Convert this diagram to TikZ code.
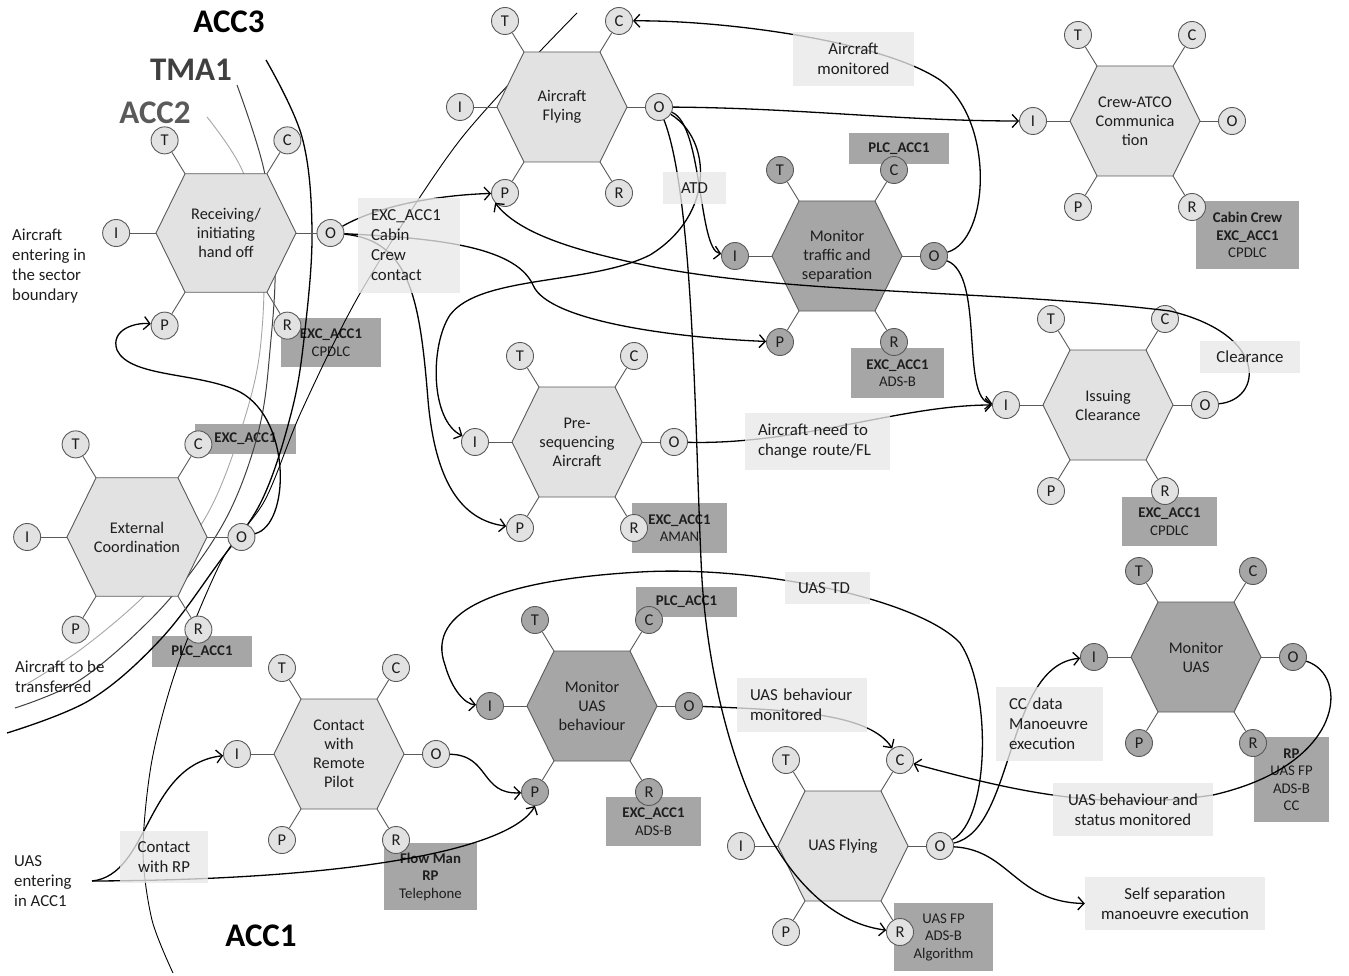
\documentclass[tikz,border=0pt]{standalone}
\usepackage{fontspec}
\setmainfont{Carlito}
\usetikzlibrary{arrows.meta}
\definecolor{hexL}{RGB}{226,226,226}
\definecolor{hexD}{RGB}{166,166,166}
\definecolor{edgeC}{RGB}{90,90,90}
\definecolor{boxD}{RGB}{166,166,166}
\definecolor{boxL}{RGB}{232,232,232}
\definecolor{txt}{RGB}{30,30,30}
\definecolor{tmaC}{RGB}{64,64,64}
\definecolor{accTwoC}{RGB}{90,90,90}

\newcommand{\framfn}[6]{%
 \begin{scope}[shift={(#2,#3)}]
  \pgfmathsetmacro{\fnsc}{#4}
  \node[port,#5] (#1-T) at ({-57*\fnsc},{-86*\fnsc}) {T};
  \node[port,#5] (#1-C) at ({57*\fnsc},{-86*\fnsc}) {C};
  \node[port,#5] (#1-I) at ({-102*\fnsc},0) {I};
  \node[port,#5] (#1-O) at ({97*\fnsc},0) {O};
  \node[port,#5] (#1-P) at ({-57*\fnsc},{86*\fnsc}) {P};
  \node[port,#5] (#1-R) at ({57*\fnsc},{86*\fnsc}) {R};
  \coordinate (#1-vL) at ({-65*\fnsc},0);
  \coordinate (#1-vR) at ({65*\fnsc},0);
  \coordinate (#1-vTL) at ({-38*\fnsc},{-55*\fnsc});
  \coordinate (#1-vTR) at ({38*\fnsc},{-55*\fnsc});
  \coordinate (#1-vBL) at ({-38*\fnsc},{55*\fnsc});
  \coordinate (#1-vBR) at ({38*\fnsc},{55*\fnsc});
  \draw[portline] (#1-T) -- (#1-vTL);
  \draw[portline] (#1-C) -- (#1-vTR);
  \draw[portline] (#1-I) -- (#1-vL);
  \draw[portline] (#1-O) -- (#1-vR);
  \draw[portline] (#1-P) -- (#1-vBL);
  \draw[portline] (#1-R) -- (#1-vBR);
  \filldraw[hexshape,#5] (#1-vL) -- (#1-vTL) -- (#1-vTR) -- (#1-vR) -- (#1-vBR) -- (#1-vBL) -- cycle;
  \node[hextext] (#1) at (0,0) {#6};
 \end{scope}}

\begin{document}
\begin{tikzpicture}[x=1pt,y=-1pt,
  lightfn/.style={fill=hexL},
  darkfn/.style={fill=hexD},
  port/.style={circle, draw=edgeC, line width=0.9pt, minimum size=27pt, inner sep=0pt,
    text=txt, font=\fontsize{16.5}{16.5}\selectfont},
  portline/.style={draw=edgeC, line width=0.9pt},
  hexshape/.style={draw=edgeC, line width=0.9pt},
  hextext/.style={align=center, text=txt, inner sep=0pt, font=\fontsize{16.3}{19}\selectfont},
  dbox/.style={fill=boxD, inner sep=0pt, align=center, text=txt, font=\fontsize{14.8}{17.5}\selectfont},
  lbox/.style={fill=boxL, fill opacity=0.78, text opacity=1, inner sep=0pt, align=center, text=txt,
    font=\fontsize{16.8}{20}\selectfont},
  lboxl/.style={lbox, align=left, inner xsep=13pt},
  free/.style={align=left, inner sep=0pt, text=txt, font=\fontsize{16.8}{20}\selectfont},
  acc/.style={inner sep=0pt, font=\bfseries\fontsize{33}{33}\selectfont},
  conn/.style={draw=black, line width=1.3pt, -{Straight Barb[length=6pt,width=13pt]}},
  bndA/.style={draw=gray!70, line width=0.9pt},
  bndB/.style={draw=tmaC, line width=1pt},
  bndC/.style={draw=black, line width=1.3pt},
  bndD/.style={draw=black, line width=0.9pt}
]
\fill[white] (0,0) rectangle (1349,976);
\useasboundingbox (0,0) rectangle (1349,976);

% ---------- dark resource boxes (behind) ----------
\node[dbox, minimum width=100pt, minimum height=49pt] (bRHR) at (331,342.5) {\textbf{EXC\_ACC1}\\CPDLC};
\node[dbox, minimum width=101pt, minimum height=30pt] (bECC) at (245.5,439) {\textbf{EXC\_ACC1}};
\node[dbox, minimum width=100pt, minimum height=31pt] (bECR) at (202,651.5) {\textbf{PLC\_ACC1}};
\node[dbox, minimum width=100pt, minimum height=31pt] (bMTC) at (899,148.5) {\textbf{PLC\_ACC1}};
\node[dbox, minimum width=93pt, minimum height=50pt] (bMTR) at (897.5,373) {\textbf{EXC\_ACC1}\\ADS-B};
\node[dbox, minimum width=103pt, minimum height=68pt] (bCAR) at (1247.5,235) {\textbf{Cabin Crew}\\\textbf{EXC\_ACC1}\\CPDLC};
\node[dbox, minimum width=95pt, minimum height=49pt] (bICR) at (1169.5,521.5) {\textbf{EXC\_ACC1}\\CPDLC};
\node[dbox, minimum width=95pt, minimum height=50pt] (bPSR) at (679.5,528) {\textbf{EXC\_ACC1}\\AMAN};
\node[dbox, minimum width=101pt, minimum height=30pt] (bMBC) at (686.5,602) {\textbf{PLC\_ACC1}};
\node[dbox, minimum width=95pt, minimum height=49pt] (bMBR) at (653.5,821.5) {\textbf{EXC\_ACC1}\\ADS-B};
\node[dbox, minimum width=93pt, minimum height=67pt] (bCRR) at (430.5,876.5) {\textbf{Flow Man}\\\textbf{RP}\\Telephone};
\node[dbox, minimum width=99pt, minimum height=68pt] (bUFR) at (943.5,937) {UAS FP\\ADS-B\\Algorithm};
\node[dbox, minimum width=75pt, minimum height=85pt] (bMUR) at (1291.5,779.5) {\textbf{RP}\\UAS FP\\ADS-B\\CC};

% ---------- sector boundaries ----------
\draw[bndA] plot[smooth, tension=0.6] coordinates {(207,117) (243,172) (262,250) (262,330) (250,400) (217,495) (180,555) (140,600) (80,650) (25,685)};
\draw[bndB] plot[smooth, tension=0.6] coordinates {(237,85) (264,170) (275,260) (270,350) (260,425) (235,500) (200,560) (150,620) (80,680) (15,708)};
\draw[bndC] plot[smooth, tension=0.6] coordinates {(266,60) (302,137) (312,230) (305,330) (292,410) (262,500) (217,565) (160,640) (90,700) (7,733)};
\draw[bndD] plot[smooth, tension=0.5] coordinates {(577,13) (460,140) (362,290) (302,410) (265,500) (222,560) (177,667) (152,760) (143,850) (152,920) (173,973)};

% ---------- labels ----------
\node[acc, text=black] (lACC3) at (229,22) {ACC3};
\node[acc, text=tmaC] (lTMA1) at (191,70) {TMA1};
\node[acc, text=accTwoC] (lACC2) at (155,113) {ACC2};
\node[acc, text=black] (lACC1) at (261,936) {ACC1};
\node[free, anchor=west] (lEnter) at (12,266) {Aircraft\\entering in\\the sector\\boundary};
\node[free, anchor=west] (lTrans) at (15,677) {Aircraft to be\\transferred};
\node[free, anchor=west] (lUAS) at (14,881) {UAS\\entering\\in ACC1};
\coordinate (uasent) at (92,881);

% ---------- functions ----------
\framfn{RH}{226}{233}{1.077}{lightfn}{Receiving/\\initiating\\hand off}
\framfn{EC}{137}{537}{1.077}{lightfn}{External\\Coordination}
\framfn{AF}{562}{107}{1}{lightfn}{Aircraft\\Flying}
\framfn{MT}{837}{256}{1}{darkfn}{Monitor\\traffic and\\separation}
\framfn{CA}{1135}{121}{1}{lightfn}{Crew-ATCO\\Communica\\tion}
\framfn{IC}{1108}{405}{1}{lightfn}{Issuing\\Clearance}
\framfn{PS}{577}{442}{1}{lightfn}{Pre-\\sequencing\\Aircraft}
\framfn{CR}{339}{754}{1}{lightfn}{Contact\\with\\Remote\\Pilot}
\framfn{MB}{592}{706}{1}{darkfn}{Monitor\\UAS\\behaviour}
\framfn{UF}{843}{846}{1}{lightfn}{UAS Flying}
\framfn{MU}{1196}{657}{1}{darkfn}{Monitor\\UAS}

% ---------- couplings ----------
\draw[conn] (RH-O) .. controls (380,205) and (440,195) .. (AF-P);
\draw[conn] (RH-O) .. controls (430,238) and (515,245) .. (533,285) .. controls (548,322) and (680,338) .. (MT-P);
\draw[conn] (RH-O) .. controls (410,240) and (420,300) .. (428,400) .. controls (435,480) and (460,520) .. (PS-P);
\draw[conn] (EC-O) .. controls (290,525) and (292,420) .. (240,392) .. controls (200,372) and (130,378) .. (117,350) .. controls (110,330) and (135,322) .. (RH-P);
\draw[conn] (AF-O) .. controls (800,108) and (900,121) .. (CA-I);
\draw[conn] (AF-O) .. controls (703,125) and (698,250) .. (MT-I);
\draw[conn] (AF-O) .. controls (712,140) and (715,215) .. (650,255) .. controls (590,285) and (480,275) .. (450,315) .. controls (430,345) and (430,420) .. (PS-I);
\draw[conn] (AF-O) .. controls (695,200) and (695,450) .. (702,580) .. controls (712,730) and (770,915) .. (UF-R);
\draw[conn] (MT-O) .. controls (990,240) and (995,120) .. (940,80) .. controls (880,40) and (720,20) .. (AF-C);
\draw[conn] (MT-O) .. controls (985,275) and (960,400) .. (IC-I);
\draw[conn] (IC-O) .. controls (1262,400) and (1270,335) .. (1170,311) .. controls (1000,290) and (800,295) .. (654,267) .. controls (580,252) and (520,235) .. (AF-P.south west);
\draw[conn] (PS-O) .. controls (800,445) and (900,405) .. (IC-I);
\draw[conn] (CR-O) .. controls (490,755) and (480,795) .. (MB-P);
\draw[conn] (uasent) .. controls (150,875) and (145,765) .. (CR-I);
\draw[conn] (uasent) .. controls (350,880) and (510,850) .. (MB-P.south);
\draw[conn] (MB-O) .. controls (800,710) and (870,715) .. (UF-C);
\draw[conn] (UF-O) .. controls (1015,830) and (1005,665) .. (MU-I);
\draw[conn] (UF-O) .. controls (990,820) and (992,690) .. (960,643) .. controls (920,600) and (760,565) .. (640,572) .. controls (500,580) and (425,610) .. (445,665) .. controls (452,690) and (465,704) .. (MB-I);
\draw[conn] (MU-O) .. controls (1350,675) and (1345,765) .. (1213,795) .. controls (1100,812) and (1010,790) .. (UF-C);

% ---------- light output boxes (on top) ----------
\node[lboxl, text width=76pt, minimum height=95pt] (tCab) at (409,245.5) {EXC\_ACC1\\Cabin\\Crew\\contact};
\node[lbox, minimum width=121pt, minimum height=54pt] (tAM) at (853.5,59) {Aircraft\\monitored};
\node[lbox, minimum width=63pt, minimum height=32pt] (tATD) at (694.5,188) {ATD};
\node[lbox, minimum width=100pt, minimum height=32pt] (tClr) at (1250,357) {Clearance};
\node[lboxl, text width=119pt, minimum height=57pt] (tNeed) at (817.5,441.5) {Aircraft need to\\change route/FL};
\node[lboxl, text width=59pt, minimum height=32pt] (tTD) at (827.5,588) {UAS TD};
\node[lboxl, text width=104pt, minimum height=54pt] (tUBM) at (802,705) {UAS behaviour\\monitored};
\node[lboxl, text width=81pt, minimum height=74pt] (tCC) at (1049.5,724) {CC data\\Manoeuvre\\execution};
\node[lbox, minimum width=160pt, minimum height=53pt] (tUBS) at (1133,809.5) {UAS behaviour and\\status monitored};
\node[lbox, minimum width=88pt, minimum height=52pt] (tCRP) at (164,857) {Contact\\with RP};
\node[lbox, minimum width=180pt, minimum height=53pt] (tSelf) at (1175,903.5) {Self separation\\manoeuvre execution};
\draw[conn] (UF-O) .. controls (1010,850) and (1015,902) .. (tSelf.west);
\end{tikzpicture}
\end{document}
